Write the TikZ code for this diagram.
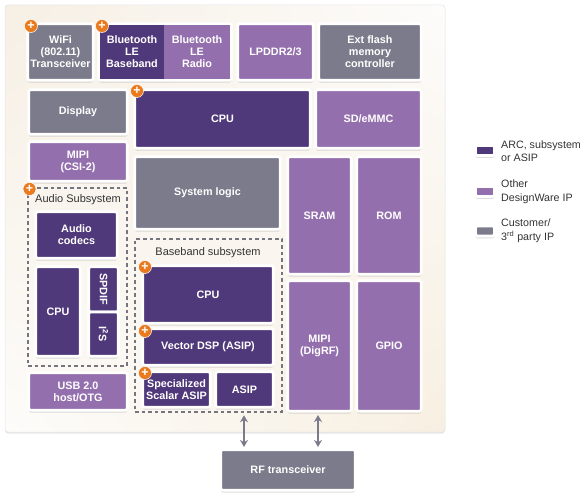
\documentclass[tikz,border=0pt]{standalone}
\usepackage{fontspec}
\setmainfont{Liberation Sans}
\usetikzlibrary{shadows,shadings,arrows.meta}

\definecolor{arcdark}{HTML}{50397A}
\definecolor{dwmid}{HTML}{946FAD}
\definecolor{thirdgray}{HTML}{7B7B8B}
\definecolor{dashgray}{HTML}{75757F}
\definecolor{badgeorange}{HTML}{EA7A1E}
\definecolor{paneltl}{HTML}{F6EFE4}
\definecolor{paneltr}{HTML}{FDFCFB}
\definecolor{panelbl}{HTML}{FDFCFA}
\definecolor{panelbr}{HTML}{F7EFE1}

\tikzset{
  softshadow/.style={drop shadow={shadow xshift=0pt, shadow yshift=-2.4pt, opacity=0.22, fill=black!60}},
  ipblock/.style={draw=white, line width=2.6pt, rounded corners=1.5pt, inner sep=0pt, softshadow,
    text=white, align=center, font=\fontsize{10.8}{12}\selectfont\bfseries},
  arcblock/.style={ipblock, fill=arcdark},
  dwblock/.style={ipblock, fill=dwmid},
  grayblock/.style={ipblock, fill=thirdgray},
  halfblock/.style={text=white, inner sep=0pt, align=center, font=\fontsize{10.8}{12}\selectfont\bfseries},
  subsys/.style={draw=dashgray, line width=2pt, dash pattern=on 3.6pt off 3pt, inner sep=0pt},
  subtitle/.style={inner sep=0pt, text=black!80, font=\fontsize{11}{13}\selectfont},
  plusbadge/.style={circle, fill=badgeorange, draw=white, line width=0.5pt, minimum size=13pt,
    inner sep=0pt, text=white, font=\fontsize{12.5}{12.5}\selectfont\bfseries},
  keytext/.style={anchor=west, inner sep=0pt, align=left, text=black!80, font=\fontsize{10.7}{13.5}\selectfont},
  link/.style={{Stealth[length=7pt,width=8pt]}-{Stealth[length=7pt,width=8pt]}, thirdgray, line width=2pt},
}

\begin{document}
\begin{tikzpicture}[x=1pt, y=-1pt]
    \useasboundingbox (0,0) rectangle (586,503);

    % chip panel
    \node[draw=black!10, line width=0.5pt, rounded corners=3pt,
      shade, upper left=paneltl, upper right=paneltr, lower left=panelbl, lower right=panelbr,
      drop shadow={shadow xshift=0pt, shadow yshift=-1.5pt, opacity=0.2, fill=black!50},
      minimum width=440pt, minimum height=427pt] (panel) at (225,218.5) {};

    % top row
    \node[grayblock, minimum width=65.5pt, minimum height=56.5pt] (wifi) at (60.5,52) {WiFi\\(802.11)\\Transceiver};
    \node[ipblock, minimum width=132.5pt, minimum height=56.5pt] (bleframe) at (165,52) {};
    \node[halfblock, fill=arcdark, minimum width=64pt, minimum height=54pt] (blebase) at (132,52) {Bluetooth\\LE\\Baseband};
    \node[halfblock, fill=dwmid, minimum width=66pt, minimum height=54pt] (bleradio) at (197,52) {Bluetooth\\LE\\Radio};
    \node[dwblock, minimum width=75.5pt, minimum height=56.5pt] (lpddr) at (275.5,52) {LPDDR2/3};
    \node[grayblock, minimum width=102.5pt, minimum height=56.5pt] (extflash) at (370,52) {Ext flash\\memory\\controller};

    % left column
    \node[grayblock, minimum width=98.5pt, minimum height=44.5pt] (display) at (78,112) {Display};
    \node[dwblock, minimum width=98.5pt, minimum height=39.5pt] (mipicsi) at (78,161.5) {MIPI\\(CSI-2)};
    \node[dwblock, minimum width=98.5pt, minimum height=37.5pt] (usb) at (78,391.5) {USB 2.0\\host/OTG};

    % audio subsystem
    \node[subsys, minimum width=99pt, minimum height=178pt] (audiosub) at (77.5,277) {};
    \node[subtitle] (audiotitle) at (78,199.5) {Audio Subsystem};
    \node[arcblock, minimum width=81.5pt, minimum height=46.5pt] (codecs) at (76.5,235) {Audio\\codecs};
    \node[arcblock, minimum width=44.5pt, minimum height=89.5pt] (audiocpu) at (58,311.5) {CPU};
    \node[arcblock, minimum width=29.5pt, minimum height=45.25pt] (spdif) at (103.5,289.4) {\rotatebox{-90}{SPDIF}};
    \node[arcblock, minimum width=29.5pt, minimum height=44.25pt] (i2s) at (103.5,334.1) {\rotatebox{-90}{I\textsuperscript{2}S}};

    % centre
    \node[arcblock, minimum width=175.5pt, minimum height=58.5pt] (cpu) at (222.5,119) {CPU};
    \node[dwblock, minimum width=105.5pt, minimum height=58.5pt] (sdemmc) at (368.5,119) {SD/eMMC};
    \node[grayblock, minimum width=145.5pt, minimum height=72.5pt] (syslogic) at (207.5,193) {System logic};
    \node[dwblock, minimum width=63.5pt, minimum height=117.5pt] (sram) at (319.5,215.5) {SRAM};
    \node[dwblock, minimum width=64.5pt, minimum height=117.5pt] (rom) at (389,215.5) {ROM};
    \node[dwblock, minimum width=63.5pt, minimum height=130.5pt] (digrf) at (319.5,346) {MIPI\\(DigRF)};
    \node[dwblock, minimum width=64.5pt, minimum height=130.5pt] (gpio) at (389,346) {GPIO};

    % baseband subsystem
    \node[subsys, minimum width=147pt, minimum height=173pt] (bbsub) at (208.5,325.5) {};
    \node[subtitle] (bbtitle) at (208,252.5) {Baseband subsystem};
    \node[arcblock, minimum width=130.5pt, minimum height=57.5pt] (bbcpu) at (208,294.5) {CPU};
    \node[arcblock, minimum width=130.5pt, minimum height=36.5pt] (vecdsp) at (208,347) {Vector DSP (ASIP)};
    \node[arcblock, minimum width=67.5pt, minimum height=35.5pt] (scalar) at (176.5,389.5) {Specialized\\Scalar ASIP};
    \node[arcblock, minimum width=57.5pt, minimum height=35.5pt] (asip) at (244.5,389.5) {ASIP};

    % outside the panel
    \node[grayblock, minimum width=134.5pt, minimum height=40.5pt] (rf) at (288,470) {RF transceiver};
    \draw[link] ([xshift=35.5pt,yshift=-2.25pt]bbsub.south) -- ([xshift=-44pt,yshift=1.5pt]rf.north);
    \draw[link] ([xshift=-1.5pt,yshift=-2.5pt]digrf.south) -- ([xshift=30pt,yshift=1.5pt]rf.north);

    % badges
    \node[plusbadge] (pluswifi) at (31,26) {+};
    \node[plusbadge] (plusble) at (102,26) {+};
    \node[plusbadge] (pluscpu) at (137,91) {+};
    \node[plusbadge] (plusaudio) at (29.5,189) {+};
    \node[plusbadge] (plusbbcpu) at (145,267) {+};
    \node[plusbadge] (plusvec) at (145,331) {+};
    \node[plusbadge] (plusscalar) at (145,373) {+};

    % key
    \node[arcblock, minimum width=19pt, minimum height=10pt] (keyarc) at (485,150.5) {};
    \node[keytext] (keyarctext) at (501,151) {ARC, subsystem\\or ASIP};
    \node[dwblock, minimum width=19pt, minimum height=10pt] (keydw) at (485,191.5) {};
    \node[keytext] (keydwtext) at (501,191.5) {Other\\DesignWare IP};
    \node[grayblock, minimum width=19pt, minimum height=10pt] (keygray) at (485,231) {};
    \node[keytext] (keygraytext) at (501,230.5) {Customer/\\3\textsuperscript{rd} party IP};
\end{tikzpicture}
\end{document}
